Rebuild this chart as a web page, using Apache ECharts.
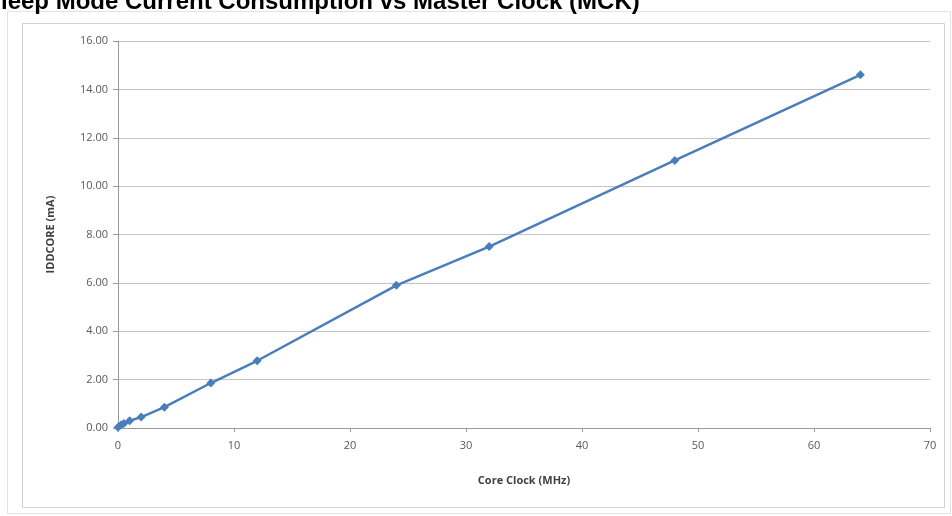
<!DOCTYPE html>
<html>
<head>
<meta charset="utf-8">
<script src="https://cdn.jsdelivr.net/npm/echarts@6/dist/echarts.min.js"></script>
<style>
  html, body { margin: 0; padding: 0; background: #fff; }
  #chart { width: 952px; height: 516px; }
</style>
</head>
<body>
<div id="chart"></div>
<script>
// core clock (MHz) and IDDCORE (mA)
const coreClock = [0, 0.25, 0.5, 1, 2, 4, 8, 12, 24, 32, 48, 64]
const iddCore = [0.03, 0.12, 0.19, 0.3, 0.45, 0.86, 1.86, 2.78, 5.9, 7.5, 11.06, 14.6]
const seriesData = coreClock.map((x, i) => [x, iddCore[i]])

const myChart = echarts.init(document.getElementById("chart"))

const option = {
  animation: false,
  backgroundColor: "#ffffff",
  title: {
    text: "Sleep Mode Current Consumption vs Master Clock (MCK)",
    left: -15,
    top: -10,
    padding: 0,
    textStyle: {
      fontFamily: "Liberation Sans",
      fontSize: 24,
      fontWeight: "bold",
      color: "#000"
    }
  },
  graphic: [
    {
      type: "rect",
      shape: { x: 7.5, y: 11.5, width: 943, height: 502 },
      style: { fill: "none", stroke: "#e3e3e3", lineWidth: 1 },
      silent: true
    },
    {
      type: "rect",
      shape: { x: 22.5, y: 23.5, width: 922, height: 484 },
      style: { fill: "none", stroke: "#d0d0d0", lineWidth: 1 },
      silent: true
    }
  ],
  grid: {
    left: 118,
    right: 22,
    top: 41,
    bottom: 88
  },
  xAxis: {
    type: "value",
    min: 0,
    max: 70,
    interval: 10,
    name: "Core Clock (MHz)",
    nameLocation: "middle",
    nameGap: 47,
    nameTextStyle: {
      fontFamily: "Open Sans",
      fontSize: 11,
      fontWeight: "bold",
      color: "#404040"
    },
    axisLine: { lineStyle: { color: "#9a9a9a" } },
    axisTick: { show: true, length: 4, lineStyle: { color: "#9a9a9a" } },
    axisLabel: {
      margin: 12,
      fontFamily: "Open Sans",
      fontSize: 11,
      color: "#595959"
    },
    splitLine: { show: false }
  },
  yAxis: {
    type: "value",
    min: 0,
    max: 16,
    interval: 2,
    name: "IDDCORE (mA)",
    nameLocation: "middle",
    nameGap: 62,
    nameTextStyle: {
      fontFamily: "Open Sans",
      fontSize: 11,
      fontWeight: "bold",
      color: "#404040"
    },
    axisLine: { show: true, lineStyle: { color: "#9a9a9a" } },
    axisTick: { show: true, length: 5, lineStyle: { color: "#9a9a9a" } },
    axisLabel: {
      margin: 10,
      fontFamily: "Open Sans",
      fontSize: 11,
      color: "#595959",
      formatter: (v) => v.toFixed(2)
    },
    splitLine: { lineStyle: { color: "#c4c4c4", width: 1 } }
  },
  series: [
    {
      type: "line",
      data: seriesData,
      symbol: "diamond",
      symbolSize: 9,
      lineStyle: { color: "#4a7ebb", width: 2.5 },
      itemStyle: { color: "#4a7ebb" }
    }
  ]
}

myChart.setOption(option)
window.addEventListener("resize", () => {
  myChart.resize()
})
</script>
</body>
</html>
